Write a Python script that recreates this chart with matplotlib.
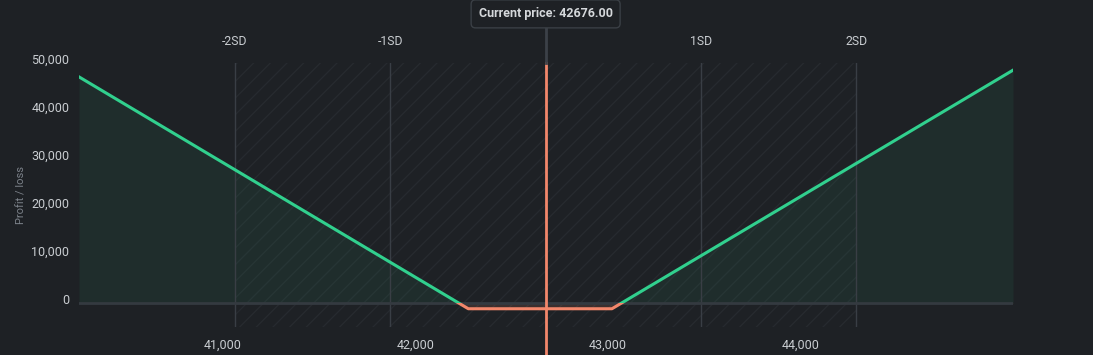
import matplotlib.pyplot as plt
import matplotlib.transforms as mtransforms
from matplotlib.patches import Rectangle
import numpy as np

plt.rcParams['font.family'] = ['Roboto', 'DejaVu Sans']

# payoff of the position (underlying price vs profit/loss)
prices = [40256, 42275, 43020, 45100]
pnl = [47100, -1200, -1200, 48500]

current_price = 42676.00
sd = 806
sd_labels = ["-2SD", "-1SD", "1SD", "2SD"]
sd_mult = [-2, -1, 1, 2]

x_ticks = [41000, 42000, 43000, 44000]
y_ticks = [0, 10000, 20000, 30000, 40000, 50000]

bg = "#1e2125"
green = "#31d08e"
orange = "#f2876b"
grid_col = "#393e45"
text_col = "#c9cdd1"

fig = plt.figure(figsize=(10.93, 3.55), dpi=100, facecolor=bg)
ax = fig.add_axes([0.0723, 0.0789, 0.8545, 0.7437])
ax.set_facecolor(bg)
ax.set_xlim(prices[0], prices[-1])
ax.set_ylim(-5000, 50000)

# hatched band between -2SD and +2SD
plt.rcParams['hatch.linewidth'] = 0.9
ax.axvspan(current_price - 2 * sd, current_price + 2 * sd, facecolor="none",
           edgecolor="#272b30", hatch="//", linewidth=0, zorder=0)

# profit / loss fills and line, split at zero with clip rectangles
above = Rectangle((prices[0], 0), prices[-1] - prices[0], 60000, transform=ax.transData)
below = Rectangle((prices[0], -10000), prices[-1] - prices[0], 10000, transform=ax.transData)

f1 = ax.fill_between(prices, pnl, 0, color=green, alpha=0.07, linewidth=0, zorder=1)
f1.set_clip_path(above)
f2 = ax.fill_between(prices, pnl, 0, color=orange, alpha=0.14, linewidth=0, zorder=1)
f2.set_clip_path(below)

for m in sd_mult:
    ax.axvline(current_price + m * sd, color=grid_col, linewidth=1, zorder=2)

ax.axhline(0, color="#343a40", linewidth=2, zorder=2)

l1, = ax.plot(prices, pnl, color=green, linewidth=2.2, zorder=3, solid_joinstyle="round")
l1.set_clip_path(above)
l2, = ax.plot(prices, pnl, color=orange, linewidth=2.2, zorder=3, solid_joinstyle="round")
l2.set_clip_path(below)

# current price marker
ax.axvline(current_price, ymin=-0.11, ymax=1, color=orange, linewidth=2, clip_on=False, zorder=4)
ax.axvline(current_price, ymin=1, ymax=1.137, color="#3c4148", linewidth=2, clip_on=False, zorder=4)
ax.text(current_price, 1.186, f"Current price: {current_price:.2f}",
        transform=ax.get_xaxis_transform(), ha="center", va="center",
        fontsize=9, fontweight="bold", color="#d5d8db", zorder=5,
        bbox=dict(boxstyle="round,pad=0.6,rounding_size=0.35", facecolor=bg,
                  edgecolor="#3a3f45", linewidth=1))

for m, lab in zip(sd_mult, sd_labels):
    ax.text(current_price + m * sd, 1.08, lab, transform=ax.get_xaxis_transform(),
            ha="center", va="center", fontsize=8.8, color=text_col)

for s in ax.spines.values():
    s.set_visible(False)

ax.set_xticks(x_ticks)
ax.set_xticklabels([f"{v:,}" for v in x_ticks])
ax.set_yticks(y_ticks)
ax.set_yticklabels([f"{v:,}" for v in y_ticks])
ax.tick_params(axis="x", length=0, pad=8.5, labelsize=9, labelcolor=text_col)
ax.tick_params(axis="y", length=0, pad=7, labelsize=9, labelcolor=text_col)
shift = mtransforms.ScaledTranslation(0, 4 / 100, fig.dpi_scale_trans)
for lab in ax.get_yticklabels():
    lab.set_transform(lab.get_transform() + shift)

ax.set_ylabel("Profit / loss", fontsize=8, color="#7c828a")
ax.yaxis.set_label_coords(-0.056, 0.5)

fig.savefig("out.png", dpi=100, facecolor=bg)
